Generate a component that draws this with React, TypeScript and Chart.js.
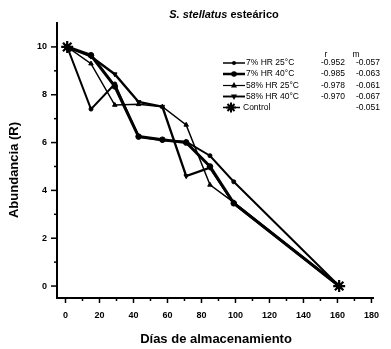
import React, { useEffect, useRef } from "react";
import { Chart, registerables } from "chart.js";

Chart.register(...registerables);

const days = [1, 15, 29, 43, 57, 71, 85, 99, 161];
const hr7_25 = [10, 7.4, 8.45, 6.25, 6.1, 6.04, 5.45, 4.36, 0];
const hr7_40 = [10, 9.65, 8.35, 6.25, 6.12, 6.0, 5.0, 3.46, 0];
const hr58_25 = [10, 9.3, 7.57, 7.6, 7.5, 6.74, 4.23, 3.5, 0];
const hr58_40 = [10, 9.6, 8.86, 7.7, 7.5, 4.6, 4.95, 3.46, 0];
const controlDays = [1, 161];
const controlVals = [10, 0];

const seriesLabels = ["7% HR 25°C", "7% HR 40°C", "58% HR 25°C", "58% HR 40°C", "Control"];
const rValues = ["-0.952", "-0.985", "-0.978", "-0.970", ""];
const mValues = ["-0.057", "-0.063", "-0.061", "-0.067", "-0.051"];

const xTicks = [0, 20, 40, 60, 80, 100, 120, 140, 160, 180];
const yTicks = [0, 2, 4, 6, 8, 10];

const FONT = '"Liberation Sans Narrow", "Liberation Sans", Arial, sans-serif';
const SANS = '"Liberation Sans", Arial, sans-serif';

const toPts = (xs: number[], ys: number[]) => xs.map((x, i) => ({ x, y: ys[i] }));

function marker(ctx: CanvasRenderingContext2D, style: string, r: number, rot: number, x: number, y: number) {
  ctx.save();
  ctx.translate(x, y);
  ctx.rotate((rot * Math.PI) / 180);
  ctx.beginPath();
  if (style === "circle") {
    ctx.arc(0, 0, r, 0, Math.PI * 2);
    ctx.fill();
  } else if (style === "triangle") {
    const s = r * 1.3;
    ctx.moveTo(0, -s);
    ctx.lineTo(s * 0.9, s * 0.6);
    ctx.lineTo(-s * 0.9, s * 0.6);
    ctx.closePath();
    ctx.fill();
  } else {
    for (let k = 0; k < 4; k++) {
      const a = (k * Math.PI) / 4;
      ctx.moveTo(-Math.cos(a) * r, -Math.sin(a) * r);
      ctx.lineTo(Math.cos(a) * r, Math.sin(a) * r);
    }
    ctx.stroke();
  }
  ctx.restore();
}

export default function App() {
  const ref = useRef<HTMLCanvasElement | null>(null);

  useEffect(() => {
    document.body.style.margin = "0";
    const canvas = ref.current;
    if (!canvas) return;

    const styles = [
      { bw: 2, ps: "circle", r: 2, rot: 0 },
      { bw: 3, ps: "circle", r: 2.8, rot: 0 },
      { bw: 1.5, ps: "triangle", r: 2.6, rot: 0 },
      { bw: 2.4, ps: "triangle", r: 2.6, rot: 180 },
    ];
    const seriesData = [hr7_25, hr7_40, hr58_25, hr58_40];

    const datasets: any[] = seriesData.map((vals, i) => ({
      label: seriesLabels[i],
      data: toPts(days, vals),
      borderColor: "#000",
      backgroundColor: "#000",
      borderWidth: styles[i].bw,
      pointStyle: styles[i].ps,
      pointRadius: styles[i].r,
      pointRotation: styles[i].rot,
      pointBorderWidth: 1,
      tension: 0,
    }));
    datasets.push({
      label: seriesLabels[4],
      data: toPts(controlDays, controlVals),
      borderColor: "#000",
      backgroundColor: "#000",
      showLine: false,
      pointStyle: "star",
      pointRadius: 6,
      pointBorderWidth: 2.2,
    });

    const decor = {
      id: "decor",
      afterDraw(chart: any) {
        const ctx = chart.ctx;
        const xs = chart.scales.x;
        const ys = chart.scales.y;
        const area = chart.chartArea;
        ctx.save();
        ctx.strokeStyle = "#000";
        ctx.fillStyle = "#000";
        ctx.lineWidth = 1.5;
        for (let v = 0; v <= 10; v++) {
          const py = ys.getPixelForValue(v);
          const len = v % 2 === 0 ? 6 : 3;
          ctx.beginPath();
          ctx.moveTo(area.left, py);
          ctx.lineTo(area.left - len, py);
          ctx.stroke();
        }
        for (let v = 0; v <= 180; v += 10) {
          const px = xs.getPixelForValue(v);
          const len = v % 20 === 0 ? 5 : 3;
          ctx.beginPath();
          ctx.moveTo(px, area.bottom);
          ctx.lineTo(px, area.bottom + len);
          ctx.stroke();
        }
        // title
        ctx.textBaseline = "middle";
        const t1 = "S. stellatus ";
        const t2 = "esteárico";
        ctx.font = `italic bold 11px ${SANS}`;
        const w1 = ctx.measureText(t1).width;
        ctx.font = `bold 11px ${SANS}`;
        const w2 = ctx.measureText(t2).width;
        const tx = 224 - (w1 + w2) / 2;
        ctx.textAlign = "left";
        ctx.font = `italic bold 11px ${SANS}`;
        ctx.fillText(t1, tx, 15);
        ctx.font = `bold 11px ${SANS}`;
        ctx.fillText(t2, tx + w1, 15);
        // axis titles
        ctx.font = `bold 13px ${SANS}`;
        ctx.textAlign = "center";
        ctx.fillText("Días de almacenamiento", 216, 339);
        ctx.save();
        ctx.translate(14, 170);
        ctx.rotate(-Math.PI / 2);
        ctx.fillText("Abundancia (R)", 0, 0);
        ctx.restore();
        // legend
        const LF = `8.5px ${SANS}`;
        ctx.font = LF;
        ctx.textAlign = "center";
        ctx.fillText("r", 326, 55);
        ctx.fillText("m", 356, 55);
        const rowY = [63, 74, 85.5, 96.5, 107.5];
        for (let i = 0; i < 5; i++) {
          const y = rowY[i];
          ctx.lineWidth = i < 4 ? Math.max(1.2, styles[i].bw - 0.5) : 1.5;
          ctx.beginPath();
          ctx.moveTo(223, y);
          ctx.lineTo(i < 4 ? 245 : 240, y);
          ctx.stroke();
          if (i < 4) {
            ctx.lineWidth = 1;
            marker(ctx, styles[i].ps, styles[i].r, styles[i].rot, 234, y);
          } else {
            ctx.lineWidth = 2;
            marker(ctx, "star", 5, 0, 231, y);
          }
          ctx.font = LF;
          ctx.textAlign = "left";
          ctx.fillText(seriesLabels[i], i < 4 ? 246 : 243, y);
          ctx.textAlign = "right";
          if (rValues[i]) ctx.fillText(rValues[i], 345, y);
          ctx.fillText(mValues[i], 380, y);
        }
        ctx.restore();
      },
    };

    const chart = new Chart(canvas, {
      type: "line",
      data: { datasets },
      options: {
        responsive: false,
        animation: false,
        layout: { padding: { top: 23, right: 8.5, left: 0, bottom: 0 } },
        plugins: { legend: { display: false }, title: { display: false }, tooltip: { enabled: false } },
        scales: {
          x: {
            type: "linear",
            min: -5,
            max: 181,
            afterBuildTicks: (s: any) => { s.ticks = xTicks.map((v) => ({ value: v })); },
            afterFit: (s: any) => { s.height = 51; },
            grid: { display: false, drawTicks: false },
            border: { display: true, color: "#000", width: 2 },
            ticks: { color: "#000", font: { family: FONT, size: 9, weight: "bold" }, padding: 12, maxRotation: 0, autoSkip: false },
          },
          y: {
            type: "linear",
            min: -0.5,
            max: 11,
            afterBuildTicks: (s: any) => { s.ticks = yTicks.map((v) => ({ value: v })); },
            afterFit: (s: any) => { s.width = 57; },
            grid: { display: false, drawTicks: false },
            border: { display: true, color: "#000", width: 2 },
            ticks: { color: "#000", font: { family: FONT, size: 9, weight: "bold" }, padding: 10 },
          },
        },
      },
      plugins: [decor],
    } as any);
    return () => chart.destroy();
  }, []);

  return (
    <div style={{ width: 391, height: 349, background: "#fff" }}>
      <canvas ref={ref} width={391} height={349} style={{ display: "block", width: 391, height: 349 }} />
    </div>
  );
}
